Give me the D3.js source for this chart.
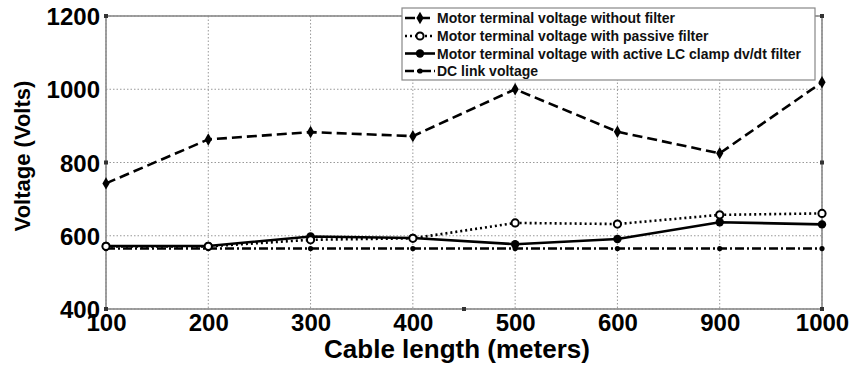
<!DOCTYPE html>
<html><head><meta charset="utf-8">
<script src="https://cdn.jsdelivr.net/npm/d3@7"></script>
<style>body{margin:0;background:#fff;}svg{display:block;font-family:"Liberation Sans",Arial,sans-serif;}</style>
</head><body><svg id="c" width="853" height="365"></svg>
<script>
const cableLengths = ["100","200","300","400","500","600","900","1000"];
const noFilter = [743, 863, 883, 872, 1000, 884, 825, 1019];
const passiveFilter = [571, 571, 589, 593, 635, 632, 657, 661];
const activeFilter = [572, 572, 598, 594, 577, 591, 637, 631];
const dcLink = [565, 565, 565, 565, 565, 565, 565, 565];
const yTicks = [400, 600, 800, 1000, 1200];
const seriesNames = ["Motor terminal voltage without filter","Motor terminal voltage with passive filter","Motor terminal voltage with active LC clamp dv/dt filter","DC link voltage"];

const svg = d3.select("#c");
const L = 106, R = 822, T = 16, B = 309;
const x = d3.scalePoint().domain(cableLengths).range([L, R]);
const y = d3.scaleLinear().domain([400, 1200]).range([B, T]);

// grid
const g = svg.append("g");
g.selectAll(".vg").data(cableLengths).join("line")
  .attr("x1", d => x(d)).attr("x2", d => x(d)).attr("y1", T).attr("y2", B)
  .attr("stroke", "#999").attr("stroke-width", 1).attr("stroke-dasharray", "1.5,2");
g.selectAll(".hg").data(yTicks).join("line")
  .attr("x1", L).attr("x2", R).attr("y1", d => y(d)).attr("y2", d => y(d))
  .attr("stroke", "#999").attr("stroke-width", 1).attr("stroke-dasharray", "1.5,2");

// frame
svg.append("rect").attr("x", L).attr("y", T).attr("width", R - L).attr("height", B - T)
  .attr("fill", "none").attr("stroke", "#8a8a8a").attr("stroke-width", 1.6);

// small corner squares
const sq = [[L, y(1200)], [L, y(800)], [L, y(400)], [R, y(1200)], [R, y(800)], [R, y(400)], [(L + R) / 2, y(400)]];
svg.selectAll(".sq").data(sq).join("rect")
  .attr("x", d => d[0] - 2).attr("y", d => d[1] - 2).attr("width", 4).attr("height", 4).attr("fill", "#333");

// axes
const xAxis = d3.axisBottom(x).tickSize(0).tickPadding(5);
const yAxis = d3.axisLeft(y).tickValues(yTicks).tickSize(0).tickPadding(6).tickFormat(d3.format("d"));
const xa = svg.append("g").attr("transform", `translate(0,${B})`).call(xAxis);
const ya = svg.append("g").attr("transform", `translate(${L},0)`).call(yAxis);
[xa, ya].forEach(a => {
  a.select(".domain").remove();
  a.selectAll("text").attr("font-size", 24).attr("font-weight", "bold").attr("fill", "#000")
    .attr("font-family", "'Liberation Sans',Arial,sans-serif");
});
ya.selectAll("text").attr("dy", "0.36em");

// axis titles
svg.append("text").attr("x", 457).attr("y", 358).attr("text-anchor", "middle")
  .attr("font-size", 26).attr("font-weight", "bold").text("Cable length (meters)");
svg.append("text").attr("transform", "translate(30,156) rotate(-90)").attr("text-anchor", "middle")
  .attr("font-size", 22).attr("font-weight", "bold").text("Voltage (Volts)");

// series
const series = [
  {vals: noFilter, dash: "10,5", marker: "diamond"},
  {vals: passiveFilter, dash: "2,3", marker: "open"},
  {vals: activeFilter, dash: null, marker: "filled"},
  {vals: dcLink, dash: "9,3,2,3", marker: "dot"}
];
const line = d3.line().x((d, i) => x(cableLengths[i])).y(d => y(d));
function drawMarker(sel, type, cx, cy) {
  if (type === "diamond") sel.append("path").attr("d", d3.symbol(d3.symbolDiamond, 45)()).attr("transform", `translate(${cx},${cy})`).attr("fill", "#000");
  else if (type === "open") sel.append("circle").attr("cx", cx).attr("cy", cy).attr("r", 3.6).attr("fill", "#fff").attr("stroke", "#000").attr("stroke-width", 2);
  else if (type === "filled") sel.append("circle").attr("cx", cx).attr("cy", cy).attr("r", 4.2).attr("fill", "#000");
  else sel.append("circle").attr("cx", cx).attr("cy", cy).attr("r", 2.6).attr("fill", "#000");
}
series.slice().reverse().forEach(s => {
  const gg = svg.append("g");
  gg.append("path").datum(s.vals).attr("d", line).attr("fill", "none").attr("stroke", "#000")
    .attr("stroke-width", 2.6).attr("stroke-dasharray", s.dash);
  s.vals.forEach((v, i) => drawMarker(gg, s.marker, x(cableLengths[i]), y(v)));
});

// legend
const lg = svg.append("g");
lg.append("rect").attr("x", 402).attr("y", 8).attr("width", 413).attr("height", 72)
  .attr("fill", "#fff").attr("stroke", "#888").attr("stroke-width", 1.2);
const rowsY = [18, 36, 53.5, 71];
series.forEach((s, i) => {
  const yy = rowsY[i];
  lg.append("line").attr("x1", 405).attr("x2", 435).attr("y1", yy).attr("y2", yy)
    .attr("stroke", "#000").attr("stroke-width", 2.6).attr("stroke-dasharray", s.dash);
  drawMarker(lg, s.marker, 420, yy);
  lg.append("text").attr("x", 437).attr("y", yy).attr("dy", "0.36em")
    .attr("font-size", 14).attr("font-weight", "bold").attr("fill", "#111").text(seriesNames[i]);
});
</script></body></html>
